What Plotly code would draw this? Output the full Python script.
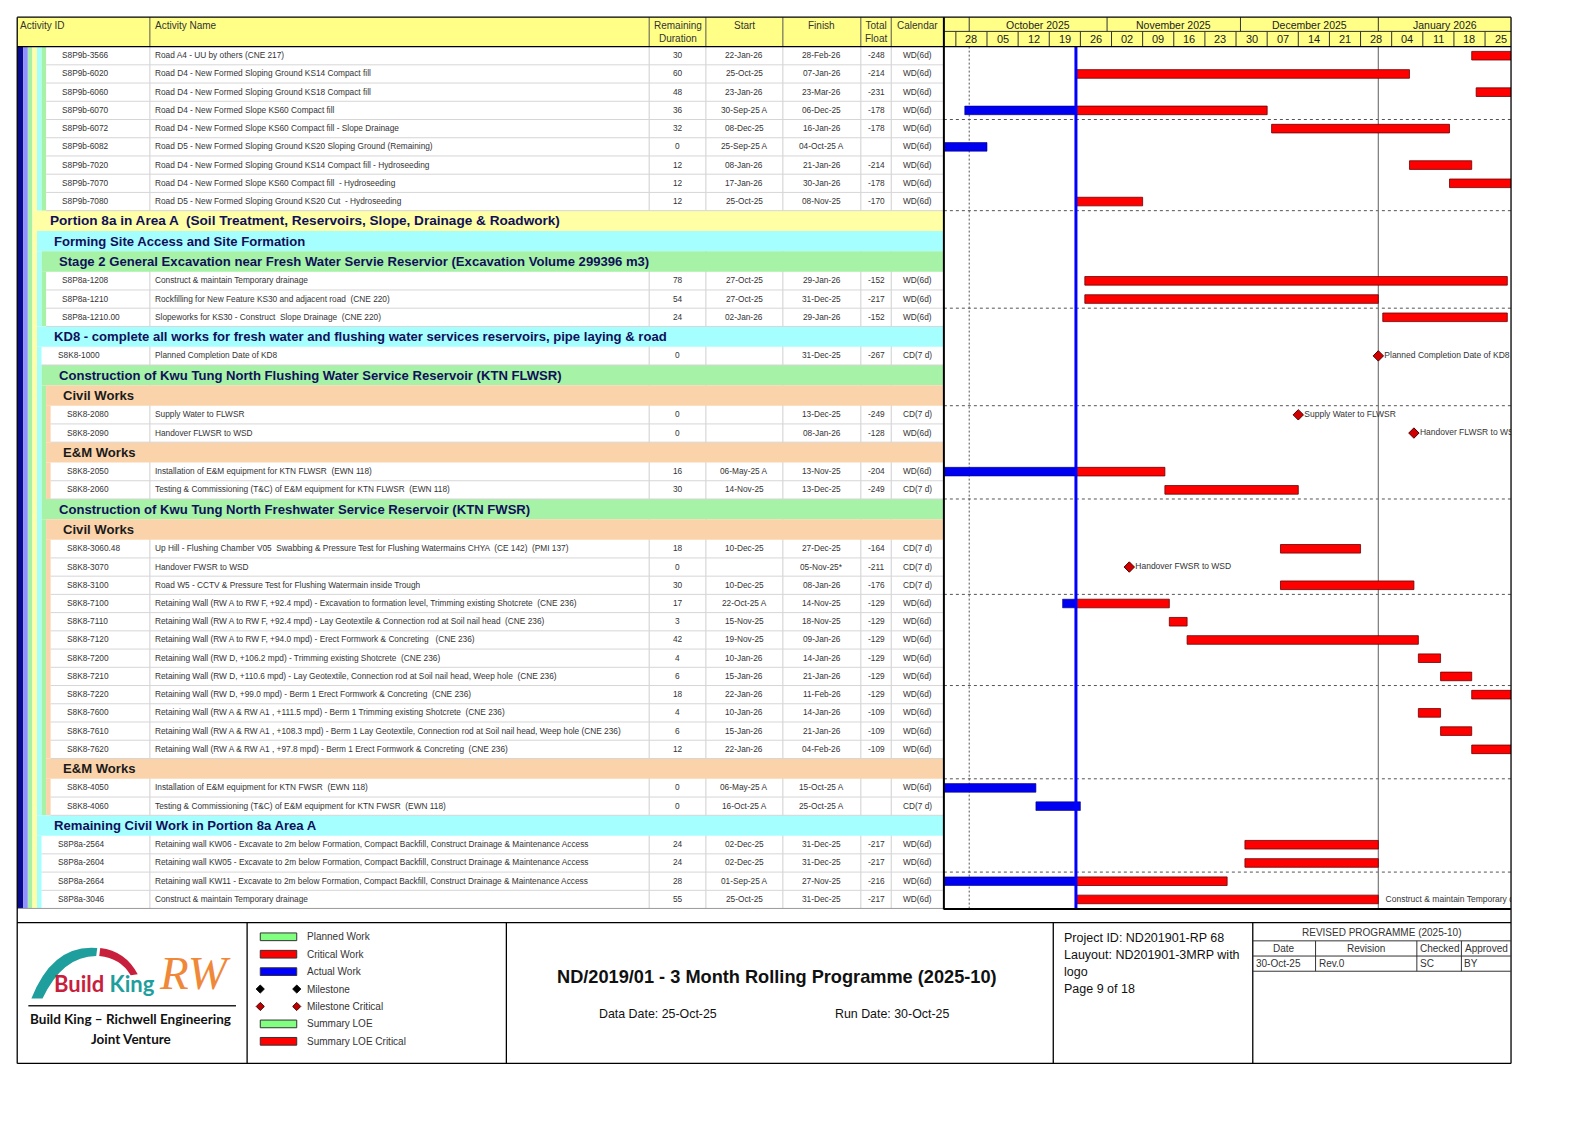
import plotly.graph_objects as go
from datetime import datetime, timedelta

W, H = 1588, 1123

# ------------------------------------------------------------------ data
# WBS level: for band (summary) rows = band level, for activities = level of parent band
row_level = [3, 3, 3, 3, 3, 3, 3, 3, 3,
             1, 2, 3, 3, 3, 3,
             2, 2,
             3, 4, 4, 4, 4, 4, 4,
             3, 4, 4, 4, 4, 4, 4, 4, 4, 4, 4, 4, 4, 4,
             4, 4, 4,
             2, 2, 2, 2, 2]

act_id = [
    "S8P9b-3566", "S8P9b-6020", "S8P9b-6060", "S8P9b-6070", "S8P9b-6072",
    "S8P9b-6082", "S8P9b-7020", "S8P9b-7070", "S8P9b-7080",
    "", "", "", "S8P8a-1208", "S8P8a-1210", "S8P8a-1210.00",
    "", "S8K8-1000",
    "", "", "S8K8-2080", "S8K8-2090", "", "S8K8-2050", "S8K8-2060",
    "", "", "S8K8-3060.48", "S8K8-3070", "S8K8-3100", "S8K8-7100", "S8K8-7110",
    "S8K8-7120", "S8K8-7200", "S8K8-7210", "S8K8-7220", "S8K8-7600", "S8K8-7610", "S8K8-7620",
    "", "S8K8-4050", "S8K8-4060",
    "", "S8P8a-2564", "S8P8a-2604", "S8P8a-2664", "S8P8a-3046",
]

act_name = [
    "Road A4 - UU by others (CNE 217)",
    "Road D4 - New Formed Sloping Ground KS14 Compact fill",
    "Road D4 - New Formed Sloping Ground KS18 Compact fill",
    "Road D4 - New Formed Slope KS60 Compact fill",
    "Road D4 - New Formed Slope KS60 Compact fill - Slope Drainage",
    "Road D5 - New Formed Sloping Ground KS20 Sloping Ground (Remaining)",
    "Road D4 - New Formed Sloping Ground KS14 Compact fill - Hydroseeding",
    "Road D4 - New Formed Slope KS60 Compact fill  - Hydroseeding",
    "Road D5 - New Formed Sloping Ground KS20 Cut  - Hydroseeding",
    "Portion 8a in Area A  (Soil Treatment, Reservoirs, Slope, Drainage & Roadwork)",
    "Forming Site Access and Site Formation",
    "Stage 2 General Excavation near Fresh Water Servie Reservior (Excavation Volume 299396 m3)",
    "Construct & maintain Temporary drainage",
    "Rockfilling for New Feature KS30 and adjacent road  (CNE 220)",
    "Slopeworks for KS30 - Construct  Slope Drainage  (CNE 220)",
    "KD8 - complete all works for fresh water and flushing water services reservoirs, pipe laying & road",
    "Planned Completion Date of KD8",
    "Construction of Kwu Tung North Flushing Water Service Reservoir (KTN FLWSR)",
    "Civil Works",
    "Supply Water to FLWSR",
    "Handover FLWSR to WSD",
    "E&M Works",
    "Installation of E&M equipment for KTN FLWSR  (EWN 118)",
    "Testing & Commissioning (T&C) of E&M equipment for KTN FLWSR  (EWN 118)",
    "Construction of Kwu Tung North Freshwater Service Reservoir (KTN FWSR)",
    "Civil Works",
    "Up Hill - Flushing Chamber V05  Swabbing & Pressure Test for Flushing Watermains CHYA  (CE 142)  (PMI 137)",
    "Handover FWSR to WSD",
    "Road W5 - CCTV & Pressure Test for Flushing Watermain inside Trough",
    "Retaining Wall (RW A to RW F, +92.4 mpd) - Excavation to formation level, Trimming existing Shotcrete  (CNE 236)",
    "Retaining Wall (RW A to RW F, +92.4 mpd) - Lay Geotextile & Connection rod at Soil nail head  (CNE 236)",
    "Retaining Wall (RW A to RW F, +94.0 mpd) - Erect Formwork & Concreting   (CNE 236)",
    "Retaining Wall (RW D, +106.2 mpd) - Trimming existing Shotcrete  (CNE 236)",
    "Retaining Wall (RW D, +110.6 mpd) - Lay Geotextile, Connection rod at Soil nail head, Weep hole  (CNE 236)",
    "Retaining Wall (RW D, +99.0 mpd) - Berm 1 Erect Formwork & Concreting  (CNE 236)",
    "Retaining Wall (RW A & RW A1 , +111.5 mpd) - Berm 1 Trimming existing Shotcrete  (CNE 236)",
    "Retaining Wall (RW A & RW A1 , +108.3 mpd) - Berm 1 Lay Geotextile, Connection rod at Soil nail head, Weep hole (CNE 236)",
    "Retaining Wall (RW A & RW A1 , +97.8 mpd) - Berm 1 Erect Formwork & Concreting  (CNE 236)",
    "E&M Works",
    "Installation of E&M equipment for KTN FWSR  (EWN 118)",
    "Testing & Commissioning (T&C) of E&M equipment for KTN FWSR  (EWN 118)",
    "Remaining Civil Work in Portion 8a Area A",
    "Retaining wall KW06 - Excavate to 2m below Formation, Compact Backfill, Construct Drainage & Maintenance Access",
    "Retaining wall KW05 - Excavate to 2m below Formation, Compact Backfill, Construct Drainage & Maintenance Access",
    "Retaining wall KW11 - Excavate to 2m below Formation, Compact Backfill, Construct Drainage & Maintenance Access",
    "Construct & maintain Temporary drainage",
]

rem_dur = ["30", "60", "48", "36", "32", "0", "12", "12", "12",
           "", "", "", "78", "54", "24",
           "", "0",
           "", "", "0", "0", "", "16", "30",
           "", "", "18", "0", "30", "17", "3", "42", "4", "6", "18", "4", "6", "12",
           "", "0", "0",
           "", "24", "24", "28", "55"]

start_txt = ["22-Jan-26", "25-Oct-25", "23-Jan-26", "30-Sep-25 A", "08-Dec-25", "25-Sep-25 A",
             "08-Jan-26", "17-Jan-26", "25-Oct-25",
             "", "", "", "27-Oct-25", "27-Oct-25", "02-Jan-26",
             "", "",
             "", "", "", "", "", "06-May-25 A", "14-Nov-25",
             "", "", "10-Dec-25", "", "10-Dec-25", "22-Oct-25 A", "15-Nov-25", "19-Nov-25",
             "10-Jan-26", "15-Jan-26", "22-Jan-26", "10-Jan-26", "15-Jan-26", "22-Jan-26",
             "", "06-May-25 A", "16-Oct-25 A",
             "", "02-Dec-25", "02-Dec-25", "01-Sep-25 A", "25-Oct-25"]

finish_txt = ["28-Feb-26", "07-Jan-26", "23-Mar-26", "06-Dec-25", "16-Jan-26", "04-Oct-25 A",
              "21-Jan-26", "30-Jan-26", "08-Nov-25",
              "", "", "", "29-Jan-26", "31-Dec-25", "29-Jan-26",
              "", "31-Dec-25",
              "", "", "13-Dec-25", "08-Jan-26", "", "13-Nov-25", "13-Dec-25",
              "", "", "27-Dec-25", "05-Nov-25*", "08-Jan-26", "14-Nov-25", "18-Nov-25", "09-Jan-26",
              "14-Jan-26", "21-Jan-26", "11-Feb-26", "14-Jan-26", "21-Jan-26", "04-Feb-26",
              "", "15-Oct-25 A", "25-Oct-25 A",
              "", "31-Dec-25", "31-Dec-25", "27-Nov-25", "31-Dec-25"]

total_float = ["-248", "-214", "-231", "-178", "-178", "", "-214", "-178", "-170",
               "", "", "", "-152", "-217", "-152",
               "", "-267",
               "", "", "-249", "-128", "", "-204", "-249",
               "", "", "-164", "-211", "-176", "-129", "-129", "-129", "-129", "-129", "-129",
               "-109", "-109", "-109",
               "", "", "",
               "", "-217", "-217", "-216", "-217"]

calendar = (["WD(6d)"] * 9 +
            ["", "", "", "WD(6d)", "WD(6d)", "WD(6d)"] +
            ["", "CD(7 d)"] +
            ["", "", "CD(7 d)", "WD(6d)", "", "WD(6d)", "CD(7 d)"] +
            ["", "", "CD(7 d)", "CD(7 d)", "CD(7 d)"] + ["WD(6d)"] * 9 +
            ["", "WD(6d)", "CD(7 d)"] +
            ["", "WD(6d)", "WD(6d)", "WD(6d)", "WD(6d)"])

bar_label_ids = ["S8K8-1000", "S8K8-2080", "S8K8-2090", "S8K8-3070", "S8P8a-3046"]

data_date_txt = "25-Oct-25"
header_cols = ["Activity ID", "Activity Name", "Remaining<br>Duration", "Start", "Finish",
               "Total<br>Float", "Calendar"]
month_labels = ["October 2025", "November 2025", "December 2025", "January 2026"]
month_starts = ["2025-10-01", "2025-11-01", "2025-12-01", "2026-01-01", "2026-02-01"]
week_labels = ["28", "05", "12", "19", "26", "02", "09", "16", "23", "30",
               "07", "14", "21", "28", "04", "11", "18", "25"]
first_week = "2025-09-28"

legend_labels = ["Planned Work", "Critical Work", "Actual Work", "Milestone",
                 "Milestone Critical", "Summary LOE", "Summary LOE Critical"]
legend_kinds = ["bar", "bar", "bar", "diamond", "diamond", "bar", "bar"]
legend_colors = ["#80ff80", "#ff0000", "#0000ff", "#000000", "#c00000", "#80ff80", "#ff0000"]

title_text = "ND/2019/01 - 3 Month Rolling Programme (2025-10)"
data_date_label = "Data Date: 25-Oct-25"
run_date_label = "Run Date: 30-Oct-25"
project_lines = ["Project ID: ND201901-RP 68", "Lauyout: ND201901-3MRP with", "logo", "Page 9 of 18"]
rev_title = "REVISED PROGRAMME (2025-10)"
rev_head = ["Date", "Revision", "Checked", "Approved"]
rev_row = ["30-Oct-25", "Rev.0", "SC", "BY"]

# ------------------------------------------------------------------ styling / layout constants
NARROW = "Liberation Sans Narrow, Arial Narrow, Liberation Sans, Arial, sans-serif"
ARIAL = "Liberation Sans, Arial, sans-serif"
LOGO = "Lato, Open Sans, Liberation Sans, sans-serif"
TXT = "#333333"
HDR_YEL = "#ffff88"
LEVEL_COL = {-2: "#0a0a8c", -1: "#9090ff", 0: "#a8f0a8", 1: "#ffffa6",
             2: "#a6ffff", 3: "#a6f2a6", 4: "#fbd3ab"}
BAND_TXT = {1: "#10105a", 2: "#10105a", 3: "#10105a", 4: "#1a1a1a"}
BAND_SIZE = {1: 13.6, 2: 13.1, 3: 13.1, 4: 13.1}
CELL_FS = 8.3

# page-layout grid (design units; page is 1568 design units wide)
REF_W = 1568.0
REF_H = H * REF_W / W
L_TAB, R_TAB, R_GANTT = 17, 932, 1492
TOP, HDR_MID, HDR_B, ROWS_B = 17, 31, 46, 897
ROW0 = 46.0
COL_EDGE = [17, 148, 641, 697, 773, 850, 880, 932]
COL_CTR = [None, None, 669, 735, 811.5, 865, 906]
TASK_H, BAND_H = 18.0, 20.1
X_RANGE = ["2025-09-25 07:20", "2026-01-30 20:10"]


def P(x):
    return x / REF_W


def Q(y):
    return 1 - y / REF_H


def lvl_x(L):
    return 27.5 + 4.5 * L


shapes, annots = [], []


def rect(x0, y0, x1, y1, fill, lc=None, lw=0, xref="paper", yref="paper", layer="above"):
    if xref == "paper":
        x0, x1 = P(x0), P(x1)
    if yref == "paper":
        y0, y1 = Q(y0), Q(y1)
    shapes.append(dict(type="rect", xref=xref, yref=yref, x0=x0, x1=x1, y0=y0, y1=y1,
                       fillcolor=fill, line=dict(color=lc or fill, width=lw), layer=layer))


def line(x0, y0, x1, y1, color, width=1, dash="solid", xref="paper", yref="paper", layer="above"):
    if xref == "paper":
        x0, x1 = P(x0), P(x1)
    if yref == "paper":
        y0, y1 = Q(y0), Q(y1)
    shapes.append(dict(type="line", xref=xref, yref=yref, x0=x0, x1=x1, y0=y0, y1=y1,
                       line=dict(color=color, width=width, dash=dash), layer=layer))


def text(x, y, s, size, color=TXT, xanchor="left", xref="paper", yref="paper",
         family=NARROW, yanchor="middle", yshift=0):
    if xref == "paper":
        x = P(x)
    if yref == "paper":
        y = Q(y)
    annots.append(dict(x=x, y=y, xref=xref, yref=yref, text=s, showarrow=False,
                       xanchor=xanchor, yanchor=yanchor, borderpad=0, yshift=yshift,
                       font=dict(size=size, color=color, family=family)))


def pd_(s):
    return datetime.strptime(s.replace(" A", "").replace("*", "").strip(), "%d-%b-%y")


n = len(act_id)
is_band = [a == "" for a in act_id]

# row geometry (y axis units = design units)
row_top, row_bot, row_mid = [], [], []
cur = ROW0
for i in range(n):
    h = BAND_H if is_band[i] else TASK_H
    row_top.append(max(cur, HDR_B))
    row_bot.append(cur + h)
    row_mid.append(cur + h / 2)
    cur += h
LAST_B = min(row_bot[-1], ROWS_B)
row_bot[-1] = LAST_B

# ------------------------------------------------------------------ table background
rect(L_TAB, TOP, R_TAB, HDR_B, HDR_YEL)
rect(R_TAB, TOP, R_GANTT, HDR_B, HDR_YEL)
for x in COL_EDGE[1:-1]:
    line(x, HDR_B, x, LAST_B, "#cfcfcf", 1)
    line(x, TOP, x, HDR_B, "#555555", 1)

for L in (-2, -1, 0):
    x0 = L_TAB if L == -2 else lvl_x(L)
    rect(x0, HDR_B, lvl_x(L + 1), LAST_B, LEVEL_COL[L])

for L in range(1, row_level[0] + 1):
    end = n - 1
    for j in range(n):
        if is_band[j] and row_level[j] <= L:
            end = j - 1
            break
    rect(lvl_x(L), row_top[0], lvl_x(L + 1), row_bot[end], LEVEL_COL[L], yref="y")

for i in range(n):
    if not is_band[i]:
        continue
    L = row_level[i]
    rect(lvl_x(L), row_top[i], R_TAB, row_bot[i], LEVEL_COL[L], yref="y")
    end = n - 1
    for j in range(i + 1, n):
        if is_band[j] and row_level[j] <= L:
            end = j - 1
            break
    if end > i:
        rect(lvl_x(L), row_bot[i], lvl_x(L + 1), row_bot[end], LEVEL_COL[L], yref="y")
    text(lvl_x(L) + 16, row_mid[i], "<b>%s</b>" % act_name[i], BAND_SIZE[L],
         color=BAND_TXT[L], yref="y", family=ARIAL)

for i in range(n):
    if is_band[i]:
        continue
    xw = lvl_x(row_level[i] + 1)
    if i < n - 1:
        line(xw, row_bot[i], R_TAB, row_bot[i], "#d6d6d6", 1, yref="y")
    text(xw + 15, row_mid[i], act_id[i], CELL_FS, yref="y", yshift=0.5)
    text(COL_EDGE[1] + 4, row_mid[i], act_name[i], CELL_FS, yref="y", yshift=0.5)
    vals = [None, None, rem_dur[i], start_txt[i], finish_txt[i], total_float[i], calendar[i]]
    for c in range(2, 7):
        if vals[c]:
            text(COL_CTR[c], row_mid[i], vals[c], CELL_FS, xanchor="center", yref="y", yshift=0.5)

hx = [19, 152, 669, 735, 811.5, 865, 906]
for c, lab in enumerate(header_cols):
    text(hx[c], TOP + 1.5, lab, 10, color="#333333", xanchor="left" if c < 2 else "center",
         yanchor="top")

# ------------------------------------------------------------------ gantt header
x0d = datetime.strptime(X_RANGE[0], "%Y-%m-%d %H:%M")
x1d = datetime.strptime(X_RANGE[1], "%Y-%m-%d %H:%M")
line(R_TAB, HDR_MID, R_GANTT, HDR_MID, "#333333", 1)
for k, lab in enumerate(month_labels):
    ms = datetime.strptime(month_starts[k], "%Y-%m-%d")
    me = datetime.strptime(month_starts[k + 1], "%Y-%m-%d")
    line(ms, TOP, ms, HDR_MID, "#333333", 1, xref="x")
    vs, ve = max(ms, x0d), min(me, x1d)
    text(vs + (ve - vs) / 2, (TOP + HDR_MID) / 2 + 0.5, lab, 10.5, color="#222222",
         xanchor="center", xref="x")
w0 = datetime.strptime(first_week, "%Y-%m-%d")
for k, lab in enumerate(week_labels):
    ws = w0 + timedelta(days=7 * k)
    line(ws, HDR_MID, ws, HDR_B, "#333333", 1, xref="x")
    text(ws + timedelta(days=3.5), (HDR_MID + HDR_B) / 2 + 0.5, lab, 11, color="#222222",
         xanchor="center", xref="x")

# ------------------------------------------------------------------ gantt grid
for i in range(n):
    if i % 5 == 3 and i < n - 1:
        line(R_TAB, row_bot[i], R_GANTT, row_bot[i], "#555555", 1, dash="3px,3px",
             yref="y", layer="below")
qd = datetime(2025, 10, 1)
line(qd, HDR_B, qd, ROWS_B, "#555555", 1, dash="2px,2px", xref="x", layer="below")
yd = datetime(2026, 1, 1)
line(yd, HDR_B, yd, ROWS_B, "#7a7a7a", 1.2, xref="x", layer="below")

# ------------------------------------------------------------------ bars
DATA_DATE = pd_(data_date_txt)
DAY = timedelta(days=1)
red_y, red_b, red_x = [], [], []
blu_y, blu_b, blu_x = [], [], []
ms_x, ms_y, ms_t = [], [], []
lb_x, lb_y, lb_t = [], [], []


def ms_(d):
    return d.total_seconds() * 1000.0


for i in range(n):
    if is_band[i]:
        continue
    s, f = start_txt[i], finish_txt[i]
    fd = pd_(f) + DAY
    if s == "":
        ms_x.append(fd.strftime("%Y-%m-%d"))
        ms_y.append(row_mid[i])
        ms_t.append(act_name[i] if act_id[i] in bar_label_ids else "")
        continue
    sd = pd_(s)
    if s.endswith(" A") and f.endswith(" A"):
        blu_y.append(row_mid[i]); blu_b.append(sd.strftime("%Y-%m-%d")); blu_x.append(ms_(fd - sd))
    elif s.endswith(" A"):
        blu_y.append(row_mid[i]); blu_b.append(sd.strftime("%Y-%m-%d"))
        blu_x.append(ms_(DATA_DATE - sd))
        red_y.append(row_mid[i]); red_b.append(DATA_DATE.strftime("%Y-%m-%d"))
        red_x.append(ms_(fd - DATA_DATE))
    else:
        red_y.append(row_mid[i]); red_b.append(sd.strftime("%Y-%m-%d")); red_x.append(ms_(fd - sd))
    if act_id[i] in bar_label_ids:
        lb_x.append(fd.strftime("%Y-%m-%d")); lb_y.append(row_mid[i]); lb_t.append(act_name[i])

fig = go.Figure()
fig.add_trace(go.Bar(orientation="h", y=blu_y, x=blu_x, base=blu_b, width=8.5,
                     marker=dict(color="#0000f0", line=dict(color="#00007a", width=0.6)),
                     hoverinfo="skip"))
fig.add_trace(go.Bar(orientation="h", y=red_y, x=red_x, base=red_b, width=8.5,
                     marker=dict(color="#ff0000", line=dict(color="#6a0000", width=0.8)),
                     hoverinfo="skip"))
fig.add_trace(go.Scatter(x=ms_x, y=ms_y, text=ms_t, mode="markers+text",
                         textposition="middle right",
                         textfont=dict(size=8.5, color=TXT, family=NARROW),
                         marker=dict(symbol="diamond", size=8, color="#d00000",
                                     line=dict(color="#500000", width=1)),
                         hoverinfo="skip", cliponaxis=True))
fig.add_trace(go.Scatter(x=lb_x, y=lb_y, text=lb_t, mode="markers+text",
                         textposition="middle right",
                         textfont=dict(size=8.5, color=TXT, family=NARROW),
                         marker=dict(size=10, color="rgba(0,0,0,0)"),
                         hoverinfo="skip", cliponaxis=True))

line(DATA_DATE, HDR_B, DATA_DATE, ROWS_B, "#0000ff", 3, xref="x")

# ------------------------------------------------------------------ frames
line(L_TAB, HDR_B, R_GANTT, HDR_B, "#000000", 1.3)
line(L_TAB, LAST_B, R_TAB, LAST_B, "#9a9a9a", 1)
line(R_TAB, ROWS_B + 0.5, R_GANTT, ROWS_B + 0.5, "#000000", 2)
line(R_TAB, TOP, R_TAB, ROWS_B + 1, "#000000", 2)
line(L_TAB, TOP, R_GANTT, TOP, "#000000", 1.3)
line(L_TAB, TOP, L_TAB, 1050, "#000000", 1.3)
line(R_GANTT, TOP, R_GANTT, 1050, "#000000", 1.3)

# ------------------------------------------------------------------ footer
FT, FB = 911, 1050
line(L_TAB, FT, R_GANTT, FT, "#000000", 1.3)
line(L_TAB, FB, R_GANTT, FB, "#000000", 1.3)
for x in (244, 500, 1040, 1237):
    line(x, FT, x, FB, "#000000", 1.3)


def path_px(pts):
    d = "M %f,%f " % (P(pts[0][0]), Q(pts[0][1]))
    for seg in pts[1:]:
        if len(seg) == 4:
            d += "Q %f,%f %f,%f " % (P(seg[0]), Q(seg[1]), P(seg[2]), Q(seg[3]))
        else:
            d += "L %f,%f " % (P(seg[0]), Q(seg[1]))
    return d + "Z"


shapes.append(dict(type="path", xref="paper", yref="paper", fillcolor="#1e9e9c",
                   line=dict(width=0), layer="above",
                   path=path_px([(31, 986), (52, 932, 96, 936), (95, 944), (62, 944, 42, 986)])))
shapes.append(dict(type="path", xref="paper", yref="paper", fillcolor="#c8203c",
                   line=dict(width=0), layer="above",
                   path=path_px([(99, 936), (124, 939, 136, 962), (129, 963), (119, 946, 98, 944)])))
text(103, 971, "<b><span style='color:#c8203c'>Build</span> <span style='color:#1e9e9c'>King</span></b>",
     22, family=LOGO, xanchor="center")
text(193, 961, "<i>RW</i>", 47, color="#f0883a",
     family="Liberation Serif, DejaVu Serif, serif", xanchor="center")
line(28, 993, 233, 993, "#222222", 1.5)
text(129, 1006, "<b>Build King – Richwell Engineering</b>", 13.5, color="#111111",
     family=LOGO, xanchor="center")
text(129, 1026, "<b>Joint Venture</b>", 13.5, color="#111111",
     family=LOGO, xanchor="center")

for k, lab in enumerate(legend_labels):
    yy = 925 + 17.2 * k
    if legend_kinds[k] == "bar":
        rect(257, yy - 3.8, 293, yy + 3.8, legend_colors[k], lc="#333333", lw=1)
    else:
        for cx in (257, 293):
            dpath = "M %f,%f L %f,%f L %f,%f L %f,%f Z" % (
                P(cx), Q(yy - 4), P(cx + 4), Q(yy), P(cx), Q(yy + 4), P(cx - 4), Q(yy))
            shapes.append(dict(type="path", xref="paper", yref="paper", path=dpath,
                               fillcolor=legend_colors[k],
                               line=dict(color="#400000" if k == 4 else "#000000", width=1),
                               layer="above"))
    text(302, yy, lab, 10, color="#333333")

text(767, 965, "<b>%s</b>" % title_text, 18.2, color="#111111", family=ARIAL, xanchor="center")
text(650, 1001, data_date_label, 12.4, color="#111111", family=ARIAL, xanchor="center")
text(881, 1001, run_date_label, 12.4, color="#111111", family=ARIAL, xanchor="center")
for k, s in enumerate(project_lines):
    text(1050, 926 + 16.7 * k, s, 12.5, color="#111111", family=ARIAL)

line(1237, 929, R_GANTT, 929, "#333333", 1)
line(1237, 944, R_GANTT, 944, "#333333", 1)
line(1237, 959, R_GANTT, 959, "#333333", 1)
for x in (1299, 1399, 1443):
    line(x, 929, x, 959, "#333333", 1)
text(1365, 920.5, rev_title, 10, color="#333333", xanchor="center")
rcx = [1268, 1349, 1421, 1467.5]
rlx = [1239, 1301, 1401, 1445]
for k in range(4):
    text(rcx[k], 936.5, rev_head[k], 10, color="#333333", xanchor="center")
    text(rlx[k], 951.5, rev_row[k], 10, color="#333333")

# ------------------------------------------------------------------ layout
fig.update_layout(
    width=W, height=H, margin=dict(l=0, r=0, t=0, b=0), autosize=False,
    paper_bgcolor="white", plot_bgcolor="white", showlegend=False, barmode="overlay",
    xaxis=dict(type="date", range=X_RANGE, domain=[P(R_TAB), P(R_GANTT)],
               showgrid=False, zeroline=False, showticklabels=False, showline=False,
               fixedrange=True),
    yaxis=dict(range=[ROWS_B, HDR_B], domain=[Q(ROWS_B), Q(HDR_B)],
               showgrid=False, zeroline=False, showticklabels=False, showline=False,
               fixedrange=True),
    shapes=shapes, annotations=annots,
)

fig.write_html("out.html", config={"displayModeBar": False},
               post_script="document.body.style.margin='0';document.body.style.overflow='hidden';")
